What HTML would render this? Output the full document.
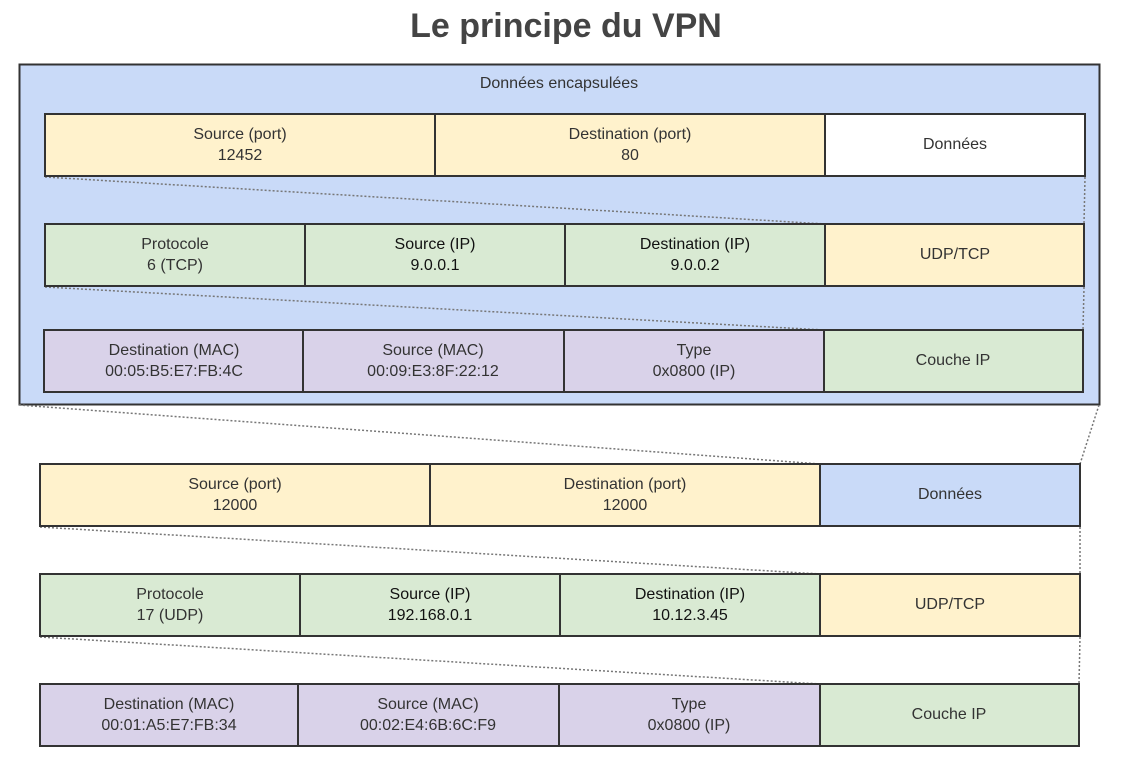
<!DOCTYPE html>
<html><head><meta charset="utf-8"><style>html,body{margin:0;padding:0;background:#fff}svg text{font-family:"Liberation Sans",Arial,sans-serif}</style></head><body>
<svg width="1124" height="766" viewBox="0 0 1124 766" xmlns="http://www.w3.org/2000/svg">
<text x="566" y="37" text-anchor="middle" font-size="34" font-weight="bold" fill="#444">Le principe du VPN</text>
<rect x="19.5" y="64.5" width="1080" height="340" fill="#c9daf8" stroke="#333" stroke-width="2"/>
<text x="559" y="88" text-anchor="middle" font-size="16" fill="#333">Données encapsulées</text>
<g stroke="#777" stroke-width="1.5" stroke-dasharray="2,2" fill="none">
<line x1="45" y1="177" x2="825" y2="224"/><line x1="1085" y1="177" x2="1084" y2="224"/>
<line x1="45" y1="287" x2="824" y2="330"/><line x1="1084" y1="287" x2="1083" y2="330"/>
<line x1="19" y1="405" x2="820" y2="464"/><line x1="1099" y1="405" x2="1080" y2="464"/>
<line x1="40" y1="527" x2="820" y2="574"/><line x1="1080" y1="527" x2="1080" y2="574"/>
<line x1="40" y1="637" x2="820" y2="684"/><line x1="1080" y1="637" x2="1079" y2="684"/>
</g>
<g stroke="#333" stroke-width="2">
<rect x="45" y="114" width="390" height="62" fill="#fff2cc"/>
<rect x="435" y="114" width="390" height="62" fill="#fff2cc"/>
<rect x="825" y="114" width="260" height="62" fill="#fff"/>
<rect x="45" y="224" width="260" height="62" fill="#d9ead3"/>
<rect x="305" y="224" width="260" height="62" fill="#d9ead3"/>
<rect x="565" y="224" width="260" height="62" fill="#d9ead3"/>
<rect x="825" y="224" width="259" height="62" fill="#fff2cc"/>
<rect x="44" y="330" width="259" height="62" fill="#d9d2e9"/>
<rect x="303" y="330" width="261" height="62" fill="#d9d2e9"/>
<rect x="564" y="330" width="260" height="62" fill="#d9d2e9"/>
<rect x="824" y="330" width="259" height="62" fill="#d9ead3"/>
<rect x="40" y="464" width="390" height="62" fill="#fff2cc"/>
<rect x="430" y="464" width="390" height="62" fill="#fff2cc"/>
<rect x="820" y="464" width="260" height="62" fill="#c9daf8"/>
<rect x="40" y="574" width="260" height="62" fill="#d9ead3"/>
<rect x="300" y="574" width="260" height="62" fill="#d9ead3"/>
<rect x="560" y="574" width="260" height="62" fill="#d9ead3"/>
<rect x="820" y="574" width="260" height="62" fill="#fff2cc"/>
<rect x="40" y="684" width="258" height="62" fill="#d9d2e9"/>
<rect x="298" y="684" width="261" height="62" fill="#d9d2e9"/>
<rect x="559" y="684" width="261" height="62" fill="#d9d2e9"/>
<rect x="820" y="684" width="259" height="62" fill="#d9ead3"/>
</g>
<g font-size="16" fill="#333" text-anchor="middle">
<text x="240" y="139">Source (port)</text><text x="240" y="160">12452</text>
<text x="630" y="139">Destination (port)</text><text x="630" y="160">80</text>
<text x="955" y="149">Données</text>
<text x="175" y="249">Protocole</text><text x="175" y="270">6 (TCP)</text>
<text x="435" y="249" fill="#111">Source (IP)</text><text x="435" y="270" fill="#111">9.0.0.1</text>
<text x="695" y="249" fill="#111">Destination (IP)</text><text x="695" y="270" fill="#111">9.0.0.2</text>
<text x="955" y="259">UDP/TCP</text>
<text x="174" y="355">Destination (MAC)</text><text x="174" y="376">00:05:B5:E7:FB:4C</text>
<text x="433" y="355">Source (MAC)</text><text x="433" y="376">00:09:E3:8F:22:12</text>
<text x="694" y="355">Type</text><text x="694" y="376">0x0800 (IP)</text>
<text x="953" y="365">Couche IP</text>
<text x="235" y="489">Source (port)</text><text x="235" y="510">12000</text>
<text x="625" y="489">Destination (port)</text><text x="625" y="510">12000</text>
<text x="950" y="499">Données</text>
<text x="170" y="599">Protocole</text><text x="170" y="620">17 (UDP)</text>
<text x="430" y="599" fill="#111">Source (IP)</text><text x="430" y="620" fill="#111">192.168.0.1</text>
<text x="690" y="599" fill="#111">Destination (IP)</text><text x="690" y="620" fill="#111">10.12.3.45</text>
<text x="950" y="609">UDP/TCP</text>
<text x="169" y="709">Destination (MAC)</text><text x="169" y="730">00:01:A5:E7:FB:34</text>
<text x="428" y="709">Source (MAC)</text><text x="428" y="730">00:02:E4:6B:6C:F9</text>
<text x="689" y="709">Type</text><text x="689" y="730">0x0800 (IP)</text>
<text x="949" y="719">Couche IP</text>
</g>
</svg>
</body></html>
